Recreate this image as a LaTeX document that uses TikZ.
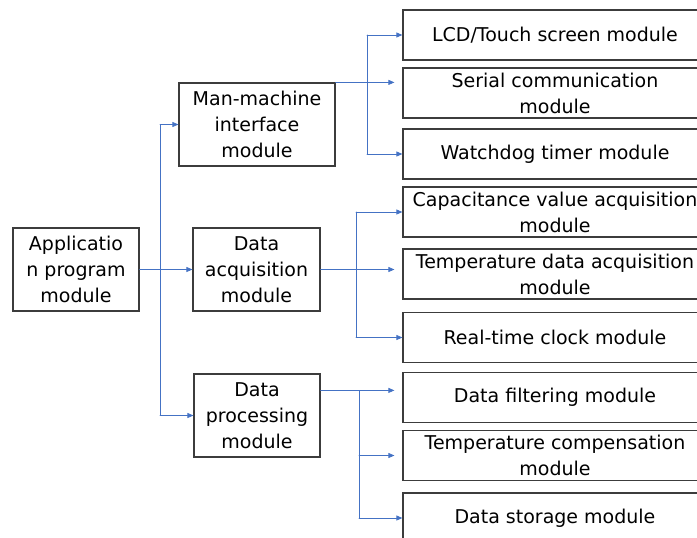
\documentclass[tikz,border=0pt]{standalone}
\usepackage{fontspec}
\setmainfont{DejaVu Sans}
\usetikzlibrary{arrows.meta,calc}
\definecolor{linkblue}{RGB}{68,114,196}
\definecolor{boxgray}{RGB}{60,60,60}

\begin{document}
\begin{tikzpicture}[x=1pt, y=-1pt, line cap=round,
  box/.style={draw=boxgray, line width=1.2pt, align=center, inner sep=0pt,
    font=\fontsize{19}{26}\selectfont},
  midbox/.style={box, minimum width=127pt, minimum height=83pt},
  leafbox/.style={box, minimum width=304pt, minimum height=50pt},
  bus/.style={draw=linkblue, line width=0.7pt},
  link/.style={bus, -{Triangle[length=6pt,width=5pt]}}]

  \useasboundingbox (0,0) rectangle (697,538);

  % Root
  \node[midbox, minimum width=126pt] (app) at (76,269.5) {Applicatio\\n program\\module};

  % Level 1
  \node[midbox, minimum width=156pt] (mmi) at (257,124.5) {Man-machine\\interface\\module};
  \node[midbox] (acq) at (256.5,269.5) {Data\\acquisition\\module};
  \node[midbox, minimum width=126pt] (proc) at (257,415.5) {Data\\processing\\module};

  % Level 2
  \node[leafbox] (lcd)    at (555,35)    {LCD/Touch screen module};
  \node[leafbox] (serial) at (555,93)    {Serial communication\\module};
  \node[leafbox] (wdt)    at (555,154)   {Watchdog timer module};
  \node[leafbox] (cap)    at (555,212)   {Capacitance value acquisition\\module};
  \node[leafbox] (temp)   at (555,274)   {Temperature data acquisition\\module};
  \node[leafbox] (rtc)    at (555,337.5) {Real-time clock module};
  \node[leafbox] (filt)   at (555,397.5) {Data filtering module};
  \node[leafbox] (comp)   at (555,455.5) {Temperature compensation\\module};
  \node[leafbox] (store)  at (555,518)   {Data storage module};

  % Root to level 1
  \coordinate (bus0) at (160,0);
  \draw[link] (app.east) -- (acq.west);
  \draw[bus] (bus0 |- mmi) -- (bus0 |- proc);
  \draw[link] (bus0 |- mmi) -- (mmi.west);
  \draw[link] (bus0 |- proc) -- (proc.west);

  % Man-machine interface branch
  \coordinate (bus1) at (367,0);
  \draw[link, shorten >=8pt] (mmi.north east) -- (mmi.north east -| serial.west);
  \draw[bus] (bus1 |- lcd) -- (bus1 |- wdt);
  \draw[link] (bus1 |- lcd) -- (lcd.west);
  \draw[link] (bus1 |- wdt) -- (wdt.west);

  % Data acquisition branch
  \coordinate (bus2) at (356,0);
  \draw[link, shorten >=8pt] (acq.east) -- (acq.east -| temp.west);
  \draw[bus] (bus2 |- cap) -- (bus2 |- rtc);
  \draw[link] (bus2 |- cap) -- (cap.west);
  \draw[link] (bus2 |- rtc) -- (rtc.west);

  % Data processing branch
  \coordinate (bus3) at (359,0);
  \coordinate (out3) at ([yshift=-17pt]proc.north east);
  \draw[link, shorten >=8pt] (out3) -- (out3 -| filt.west);
  \draw[bus] (bus3 |- out3) -- (bus3 |- store);
  \draw[link, shorten >=8pt] (bus3 |- comp) -- (comp.west);
  \draw[link] (bus3 |- store) -- (store.west);
\end{tikzpicture}
\end{document}
